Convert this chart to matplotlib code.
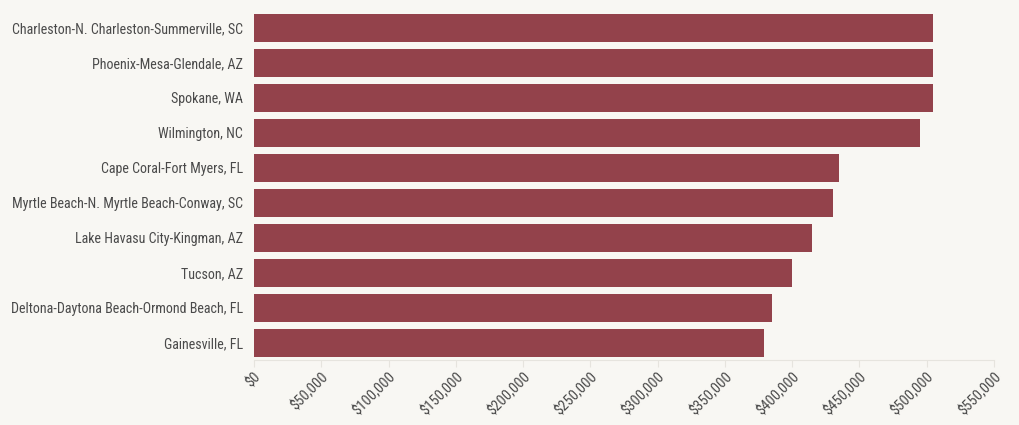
import matplotlib
matplotlib.use("Agg")
import matplotlib.pyplot as plt
from matplotlib.ticker import FuncFormatter, MultipleLocator

metros = [
    "Charleston-N. Charleston-Summerville, SC",
    "Phoenix-Mesa-Glendale, AZ",
    "Spokane, WA",
    "Wilmington, NC",
    "Cape Coral-Fort Myers, FL",
    "Myrtle Beach-N. Myrtle Beach-Conway, SC",
    "Lake Havasu City-Kingman, AZ",
    "Tucson, AZ",
    "Deltona-Daytona Beach-Ormond Beach, FL",
    "Gainesville, FL",
]
prices = [505000, 505000, 504500, 495000, 435000, 430000, 415000, 400000, 385000, 379000]

BG = "#f8f7f3"
BAR = "#93424b"
TXT = "#4a4a4a"

plt.rcParams['font.family'] = ['Roboto Condensed', 'DejaVu Sans Condensed', 'Roboto']
plt.rcParams['font.stretch'] = 'condensed'

fig = plt.figure(figsize=(10.2, 4.25), dpi=100, facecolor=BG)
ax = fig.add_axes([254/1020, 1 - 360/425, 740/1020, 350/425])
ax.set_facecolor(BG)

ypos = list(range(len(metros)))
ax.barh(ypos, prices, height=0.8, color=BAR)
ax.set_ylim(len(metros) - 0.5, -0.5)
ax.set_xlim(0, 550000)
ax.set_yticks(ypos)
ax.set_yticklabels(metros, fontsize=10.1, color=TXT)
ax.xaxis.set_major_locator(MultipleLocator(50000))
ax.xaxis.set_major_formatter(FuncFormatter(lambda v, p: f"${v:,.0f}"))
for lab in ax.get_xticklabels():
    lab.set_rotation(45)
    lab.set_ha("right")
    lab.set_rotation_mode("anchor")
    lab.set_fontsize(10.5)
    lab.set_color(TXT)

for s in ["top", "right", "left"]:
    ax.spines[s].set_visible(False)
ax.spines["bottom"].set_color("#e6e4de")
ax.tick_params(axis="y", length=0, pad=8)
ax.tick_params(axis="x", length=5, color="#e6e4de", pad=2)

fig.savefig("out.png", dpi=100, facecolor=BG)
